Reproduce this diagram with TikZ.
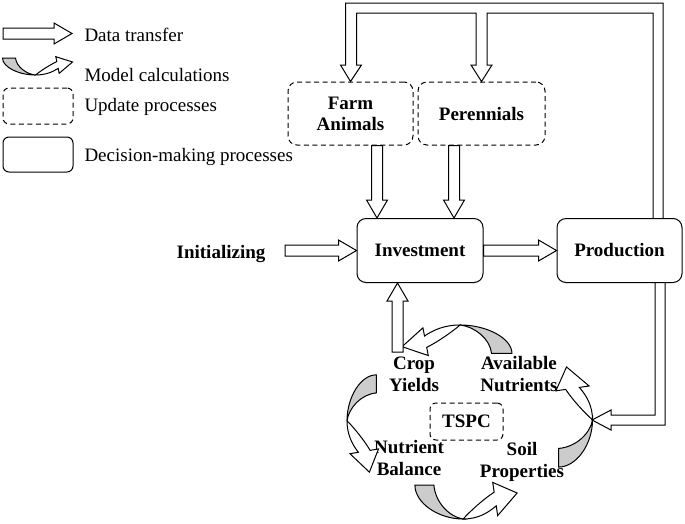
\documentclass[tikz,border=0pt]{standalone}
\usepackage{fontspec}
\setmainfont{Liberation Serif}
\usetikzlibrary{calc}

\tikzset{
  decision/.style={draw, rounded corners=9pt, minimum width=126pt, minimum height=64pt,
    align=center, font=\bfseries\fontsize{19}{21}\selectfont},
  update/.style={decision, dash pattern=on 5pt off 3.5pt},
  cyclelabel/.style={align=center, inner sep=0pt, font=\bfseries\fontsize{19}{22}\selectfont},
  legendtext/.style={anchor=base west, inner sep=0pt, font=\fontsize{19}{21}\selectfont},
  calcarrow/.pic={
    \filldraw[fill=black!20] (-35,-8) -- (-22,-8) .. controls (-21,1) and (-11,8) .. (-2,9)
      .. controls (-19,9) and (-35,1) .. (-35,-8) -- cycle;
    \filldraw[fill=white] (-2,9) .. controls (8,9) and (15,6) .. (20.7,2.4) -- (21.7,7.3)
      -- (35,-4) -- (18.3,-9.3) -- (19.3,-4.4) .. controls (12,-1) and (3,5) .. (-2,9) -- cycle;
  }
}

% hollow arrow from #1 to #2
\newcommand{\fatarrow}[2]{%
  \path ($(#2)!18pt!(#1)$) coordinate (fahead);
  \draw[fill=white] ($(#1)!5.5pt!90:(#2)$) -- ($(fahead)!5.5pt!90:(#2)$)
    -- ($(fahead)!10.5pt!90:(#2)$) -- (#2) -- ($(fahead)!10.5pt!-90:(#2)$)
    -- ($(fahead)!5.5pt!-90:(#2)$) -- ($(#1)!5.5pt!-90:(#2)$) -- cycle;}

\begin{document}
\begin{tikzpicture}[x=1pt, y=-1pt, line width=1pt, line join=miter]
\useasboundingbox (0,0) rectangle (685,523);

% legend
\coordinate (lgA) at (3,33.5);\coordinate (lgB) at (72,33.5);
\fatarrow{lgA}{lgB}
\node[legendtext] (lgdata) at (84,41.5) {Data transfer};
\pic at (37.5,66) {calcarrow};
\node[legendtext] (lgcalc) at (84,81.5) {Model calculations};
\node[update, minimum width=70pt, minimum height=36pt, rounded corners=6pt] (lgupd) at (38,106) {};
\node[legendtext] (lgupdtxt) at (84,111) {Update processes};
\node[decision, minimum width=70pt, minimum height=35pt, rounded corners=6pt] (lgdec) at (38,154.5) {};
\node[legendtext] (lgdectxt) at (84,161.5) {Decision-making processes};

% processes
\node[update, minimum width=125pt, minimum height=63pt] (farm) at (350.5,113.5) {Farm\\Animals};
\node[update, minimum width=127pt, minimum height=63pt] (peren) at (481.5,113.5) {Perennials};
\node[decision] (inv) at (420,250.5) {Investment};
\node[decision, minimum width=125pt] (prod) at (619.5,250.5) {Production};
\node[cyclelabel] (init) at (221,254) {Initializing};

% soil-crop cycle
\node[cyclelabel] (crop) at (414,374.5) {Crop\\Yields};
\node[cyclelabel] (avail) at (519,374.5) {Available\\Nutrients};
\node[cyclelabel] (bal) at (409,457.5) {Nutrient\\Balance};
\node[cyclelabel] (soil) at (522,461.5) {Soil\\Properties};
\node[update, minimum width=73pt, minimum height=37pt, rounded corners=6pt] (tspc) at (466.5,421.5) {TSPC};

\pic[rotate=180, xscale=1.57, yscale=1.67] at (457,340) {calcarrow};
\pic[rotate=-90, xscale=1.39, yscale=1.72] at (362.5,423.5) {calcarrow};
\pic[xscale=1.46, yscale=2] at (466,501) {calcarrow};
\pic[rotate=90, xscale=1.43, yscale=2] at (574.5,417) {calcarrow};

% data transfer
\coordinate (initout) at (285,250.5);
\fatarrow{initout}{inv.west}
\fatarrow{inv.east}{prod.west}
\coordinate (farmout) at ([xshift=26.5pt]farm.south);\coordinate (farmin) at (farmout |- inv.north);
\fatarrow{farmout}{farmin}
\coordinate (perenout) at ([xshift=-27.5pt]peren.south);\coordinate (perenin) at (perenout |- inv.north);
\fatarrow{perenout}{perenin}
\coordinate (cropout) at (397.5,352);\coordinate (cropin) at (cropout |- inv.south);
\fatarrow{cropout}{cropin}

% production back to the update processes and to the soil
\draw ([xshift=43.5pt]prod.north) -- (663,3) -- (345.5,3) -- (345.5,65) -- (340.5,65) -- (farm.north)
  -- (361.5,65) -- (356.5,65) -- (356.5,13) -- (476,13) -- (476,65) -- (471,65) -- (peren.north)
  -- (492,65) -- (487,65) -- (487,13) -- (653,13) -- ([xshift=33.5pt]prod.north);
\draw ([xshift=35.5pt]prod.south) -- (655,415) -- (611,415) -- (611,410) -- (592,420)
  -- (611,430) -- (611,425) -- (665,425) -- ([xshift=45.5pt]prod.south);
\end{tikzpicture}
\end{document}
